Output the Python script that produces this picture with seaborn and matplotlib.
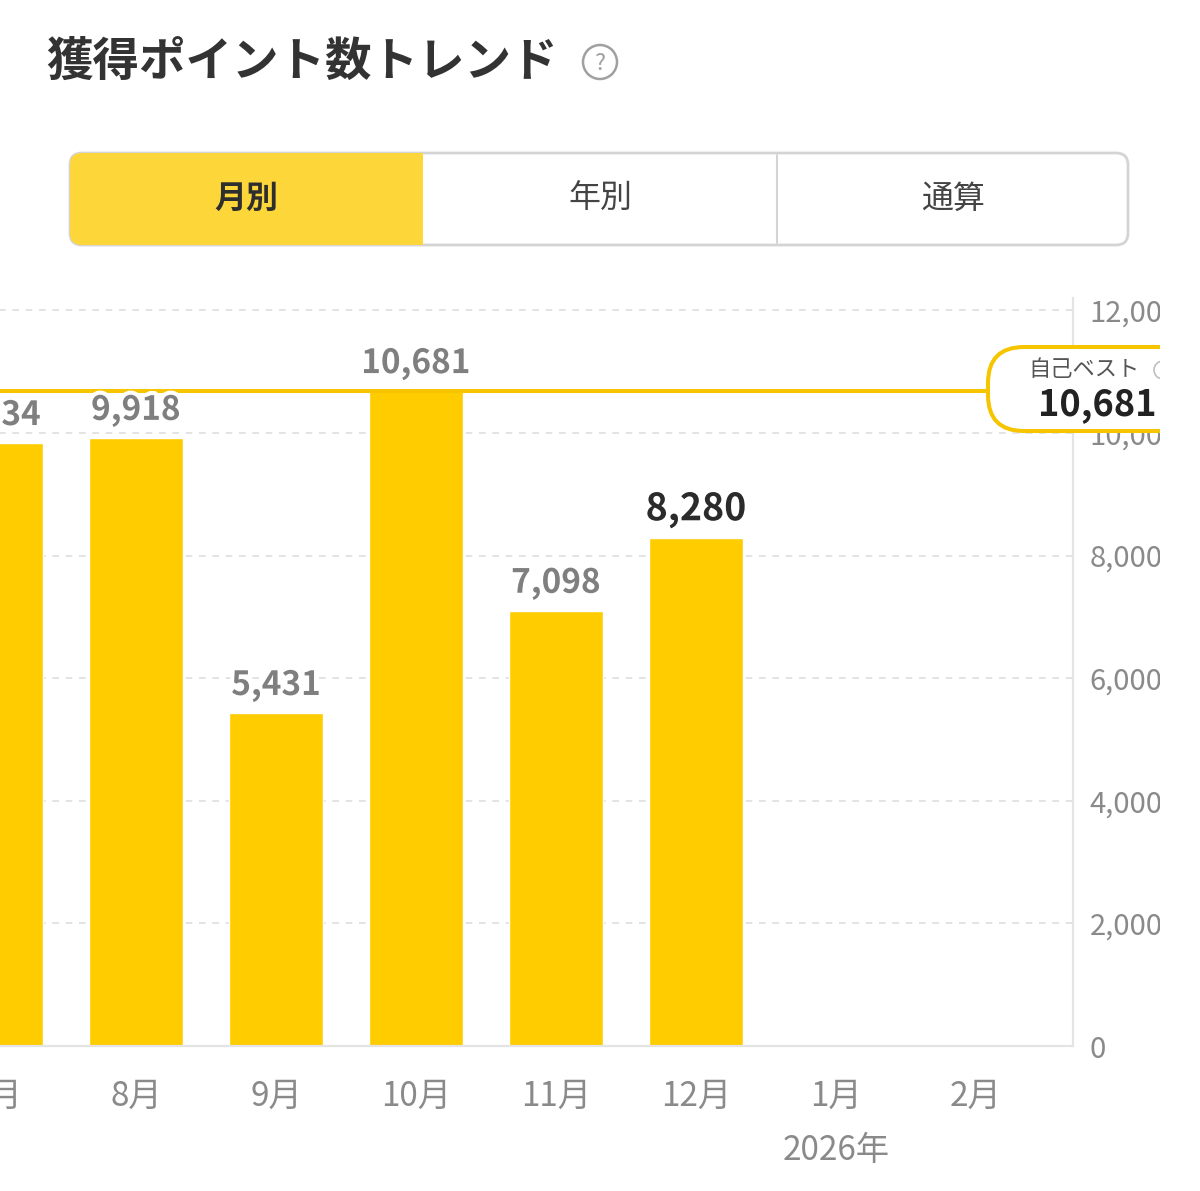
import numpy as np
import matplotlib
matplotlib.use('Agg')
import matplotlib.pyplot as plt
import matplotlib.patheffects as pe
from matplotlib.patches import FancyBboxPatch, Rectangle, Circle
import seaborn as sns

# データ
months = ['7月', '8月', '9月', '10月', '11月', '12月', '1月', '2月']
points = [9834, 9918, 5431, 10681, 7098, 8280, np.nan, np.nan]
current_month = '12月'
year_label = '2026年'
year_month = '1月'
yticks = [0, 2000, 4000, 6000, 8000, 10000, 12000]

title = '獲得ポイント数トレンド'
tabs = ['月別', '年別', '通算']
best_caption = '自己ベスト'

BAR = '#FFCC00'
GOLD = '#F6C500'
TAB_YELLOW = '#FDD63A'
GRAY = '#8a8a8a'
DARK = '#333333'

sns.set_theme(style='white')
plt.rcParams['font.family'] = ['Noto Sans CJK JP', 'DejaVu Sans']

W, H = 1200, 1191
fig = plt.figure(figsize=(W / 100, H / 100), dpi=100)
fig.patch.set_facecolor('white')

# グラフ本体 (左端は画面外にはみ出している)
ax = fig.add_axes([-74 / W, (H - 1046) / H, (1073 + 74) / W, (1046 - 298) / H])
sns.barplot(x=months, y=points, order=months, color=BAR, saturation=1,
            width=0.67, ax=ax, zorder=2)
ax.set_xlim(-0.5, 7.693)
ax.set_ylim(0, 12200)
ax.set_xlabel('')
ax.set_ylabel('')

ax.set_yticks(yticks)
ax.set_yticklabels([f'{v:,}' for v in yticks])
ax.yaxis.tick_right()
ax.tick_params(axis='y', length=0, pad=12, labelsize=21, labelcolor=GRAY)
ax.tick_params(axis='x', length=0, pad=23.5, labelsize=24, labelcolor=GRAY)

for s in ['left', 'top']:
    ax.spines[s].set_visible(False)
for s in ['right', 'bottom']:
    ax.spines[s].set_color('#e4e4e4')
    ax.spines[s].set_linewidth(1.6)

for v in yticks[1:]:
    ax.axhline(v, color='#dedede', lw=1.2, ls=(0, (4, 4)), zorder=0)

# 自己ベストライン
best = int(np.nanmax(points))
ax.axhline(best, color=GOLD, lw=2.9, zorder=3)

# 棒ラベル
for i, (m, v) in enumerate(zip(months, points)):
    if np.isnan(v):
        continue
    is_cur = m == current_month
    ax.annotate(f'{int(v):,}', (i, v), xytext=(0, 13), textcoords='offset points',
                ha='center', va='baseline', fontweight='bold',
                fontsize=27 if is_cur else 24,
                color='#2b2b2b' if is_cur else '#7f7f7f', zorder=5,
                path_effects=[pe.withStroke(linewidth=6, foreground='white')])

ax.annotate(year_label, (months.index(year_month), 0), xycoords=ax.get_xaxis_transform(),
            xytext=(0, -75), textcoords='offset points', ha='center', va='center',
            fontsize=24, color=GRAY, annotation_clip=False)

# 上に重ねるレイヤー (ピクセル座標)
ov = fig.add_axes([0, 0, 1, 1], zorder=10)
ov.set_xlim(0, W)
ov.set_ylim(H, 0)
ov.axis('off')

# タイトル
ov.text(46, 62, title, fontsize=33.5, fontweight='bold', color=DARK, va='center', ha='left')
ov.add_patch(Circle((600, 62), 17, fill=False, ec='#a0a0a0', lw=1.8))
ov.text(600, 63, '?', fontsize=17, color='#a0a0a0', ha='center', va='center')

# タブ
ov.add_patch(FancyBboxPatch((70, 153), 1058, 92, boxstyle='round,pad=0,rounding_size=12',
                            fc='white', ec='#d4d4d4', lw=2))
ov.add_patch(FancyBboxPatch((70, 153), 353, 92, boxstyle='round,pad=0,rounding_size=12',
                            fc=TAB_YELLOW, ec='none'))
ov.add_patch(Rectangle((400, 153), 23, 92, fc=TAB_YELLOW, ec='none'))
ov.plot([777, 777], [155, 243], color='#d4d4d4', lw=1.5)
tab_x = [246, 600, 953]
for j, (t, x) in enumerate(zip(tabs, tab_x)):
    ov.text(x, 199, t, fontsize=23, ha='center', va='center',
            fontweight='bold' if j == 0 else 'normal',
            color='#2e2e2e' if j == 0 else '#444444')

# 自己ベスト吹き出し
ov.add_patch(FancyBboxPatch((988, 347), 280, 84, boxstyle='round,pad=0,rounding_size=36',
                            fc='white', ec=GOLD, lw=2.9))
ov.text(1028, 370, best_caption, fontsize=16, color='#555555', ha='left', va='center')
ov.add_patch(Circle((1163, 370), 9, fill=False, ec='#c0c0c0', lw=1.2))
ov.text(1038, 405, f'{best:,}', fontsize=26, fontweight='bold', color='#222222',
        ha='left', va='center')

# 右端の切り取り
ov.add_patch(Rectangle((1160, 280), 45, 790, fc='white', ec='none', zorder=20))

fig.savefig('out.png', dpi=100, facecolor='white')
